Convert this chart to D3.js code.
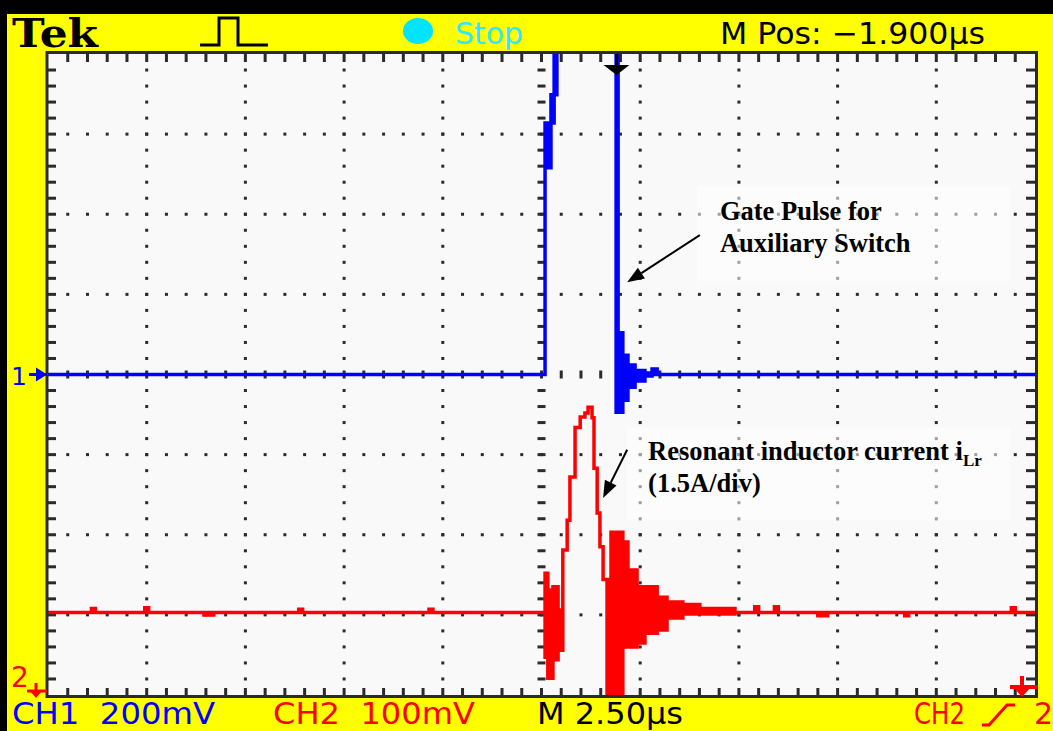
<!DOCTYPE html>
<html>
<head>
<meta charset="utf-8">
<script src="https://d3js.org/d3.v7.min.js"></script>
<style>
body { margin: 0; background: #000; overflow: hidden; }
svg { display: block; }
.scope { font-family: "DejaVu Sans", sans-serif; font-size: 30px; }
.note { font-family: "Liberation Serif", "Times New Roman", serif; font-weight: bold; font-size: 26.5px; fill: #000; }
</style>
</head>
<body>
<div id="chart"></div>
<script>
// time in us from screen centre (2.5 us/div), level in divisions from centre
// each entry: [time, lowest level, highest level] for that column (peak detect look)
var ch1Trace = [
  [-12.5, 0, 0],
  [0.09, 2.58, 3.14],
  [0.24, 3.14, 3.49],
  [0.32, 3.49, 4.6],
  [0.39, 4.6, 4.6],
  [1.89, -0.47, 4.6],
  [1.94, -0.47, 0.52],
  [2.06, -0.32, 0.24],
  [2.19, -0.16, 0.12],
  [2.37, -0.08, 0.05],
  [2.62, -0.02, 0.02],
  [2.80, 0, 0.07],
  [2.93, 0, 0],
  [12.5, 0, 0]
]

var ch2Trace = [
  [-12.5, -2.97, -2.97],
  [-11.40, -2.97, -2.92], [-11.30, -2.97, -2.97],
  [-10.05, -2.97, -2.91], [-9.95, -2.97, -2.97],
  [-8.55, -3.0, -2.97], [-8.30, -2.97, -2.97],
  [-6.15, -2.97, -2.93], [-6.05, -2.97, -2.97],
  [-2.85, -2.97, -2.93], [-2.75, -2.97, -2.97],
  [0.09, -3.53, -2.48],
  [0.16, -3.79, -2.69],
  [0.29, -3.56, -2.65],
  [0.42, -3.44, -2.94],
  [0.54, -2.19, -2.19],
  [0.65, -1.82, -1.82],
  [0.72, -1.28, -1.28],
  [0.85, -0.66, -0.66],
  [0.98, -0.53, -0.53],
  [1.10, -0.48, -0.48],
  [1.18, -0.41, -0.41],
  [1.28, -0.54, -0.54],
  [1.33, -1.17, -1.17],
  [1.41, -1.73, -1.73],
  [1.48, -2.15, -2.15],
  [1.56, -2.56, -2.56],
  [1.66, -4.2, -2.56],
  [1.76, -4.2, -1.97],
  [2.06, -3.40, -2.09],
  [2.19, -3.40, -2.44],
  [2.42, -3.35, -2.65],
  [2.62, -3.23, -2.65],
  [2.93, -3.19, -2.78],
  [3.18, -3.04, -2.84],
  [3.58, -2.99, -2.87],
  [4.01, -2.99, -2.92],
  [4.90, -2.97, -2.97],
  [5.40, -2.97, -2.90], [5.50, -2.97, -2.97],
  [5.90, -2.97, -2.90], [6.00, -2.97, -2.97],
  [7.00, -3.01, -2.97], [7.25, -2.97, -2.97],
  [9.20, -3.01, -2.97], [9.30, -2.97, -2.97],
  [11.90, -2.97, -2.91], [12.00, -2.97, -2.97],
  [12.5, -2.97, -2.97]
]

var triggerTime = 1.9
var ch1Ground = 0
var ch2Ground = -3.9

var statusTop = ['Tek', 'Stop', 'M Pos: \u22121.900\u00b5s']
var statusBottom = ['CH1  200mV', 'CH2  100mV', 'M 2.50\u00b5s', 'CH2', '2']

var notes = [
  {lines: ['Gate Pulse for', 'Auxiliary Switch'], text: [4.52, 1.93], box: [3.94, 2.35, 11.87, 1.17], from: [4.01, 1.74], to: [2.17, 1.15]},
  {lines: ['Resonant inductor current i', '(1.5A/div)'], sub: 'Lr', text: [2.70, -1.07], box: [2.17, -0.66, 11.87, -1.82], from: [2.17, -0.94], to: [1.56, -1.54]}
]

var W = 1053, H = 731
var svg = d3.select('#chart').append('svg').attr('width', W).attr('height', H)

// frame
svg.append('rect').attr('width', W).attr('height', H).attr('fill', '#000')
svg.append('rect').attr('x', 7).attr('y', 14).attr('width', W - 7).attr('height', H - 14).attr('fill', '#ffff00')

var x = d3.scaleLinear().domain([-12.5, 12.5]).range([48, 1035])
var y = d3.scaleLinear().domain([-4, 4]).range([695, 54])

svg.append('rect')
  .attr('x', x(-12.5)).attr('y', y(4))
  .attr('width', x(12.5) - x(-12.5)).attr('height', y(-4) - y(4))
  .attr('fill', '#f9f9f9')

// graticule
var g = svg.append('g').attr('fill', '#2b2b2b')
var xSub = d3.range(1, 50).map(i => -12.5 + i * 0.5)
var ySub = d3.range(1, 40).map(i => -4 + i * 0.2)
var xMajor = d3.range(-10, 10.01, 2.5)
var yMajor = d3.range(-3, 3.01, 1)

xMajor.filter(v => v != 0).forEach(function(gx){
  ySub.forEach(function(v){
    g.append('rect').attr('x', x(gx) - 1.5).attr('y', y(v) - 1.5).attr('width', 3).attr('height', 3)
  })
})
yMajor.filter(v => v != 0).forEach(function(gy){
  xSub.forEach(function(v){
    g.append('rect').attr('x', x(v) - 1.5).attr('y', y(gy) - 1.5).attr('width', 3).attr('height', 3)
  })
})
ySub.forEach(function(v){
  g.append('rect').attr('x', x(0) - 4).attr('y', y(v) - 1.5).attr('width', 8).attr('height', 3)
})
xSub.forEach(function(v){
  g.append('rect').attr('x', x(v) - 1.5).attr('y', y(0) - 4).attr('width', 3).attr('height', 8)
})

// annotation boxes (behind traces)
notes.forEach(function(n){
  svg.append('rect')
    .attr('x', x(n.box[0])).attr('y', y(n.box[1]))
    .attr('width', x(n.box[2]) - x(n.box[0])).attr('height', y(n.box[3]) - y(n.box[1]))
    .attr('fill', '#fff').attr('opacity', 0.55)
})

// traces
svg.append('clipPath').attr('id', 'plot-clip').append('rect')
  .attr('x', x(-12.5)).attr('y', y(4))
  .attr('width', x(12.5) - x(-12.5)).attr('height', y(-4) - y(4))

var area = d3.area().curve(d3.curveStepAfter)
  .x(d => x(d[0])).y0(d => y(d[1])).y1(d => y(d[2]))

var traces = svg.append('g').attr('clip-path', 'url(#plot-clip)')
traces.append('path').attr('d', area(ch1Trace))
  .attr('fill', '#0000ff').attr('stroke', '#0000ff').attr('stroke-width', 3.5)
traces.append('path').attr('d', area(ch2Trace))
  .attr('fill', '#ff0000').attr('stroke', '#ff0000').attr('stroke-width', 3.5)

// border and ticks
svg.append('rect')
  .attr('x', x(-12.5) - 1).attr('y', y(4) - 1.5)
  .attr('width', x(12.5) - x(-12.5) + 2.5).attr('height', y(-4) - y(4) + 3)
  .attr('fill', 'none').attr('stroke', '#2b2b2b').attr('stroke-width', 3)

xSub.forEach(function(v){
  g.append('rect').attr('x', x(v) - 1.5).attr('y', y(4)).attr('width', 3).attr('height', 8)
  g.append('rect').attr('x', x(v) - 1.5).attr('y', y(-4) - 7).attr('width', 3).attr('height', 7)
})
ySub.forEach(function(v){
  g.append('rect').attr('x', x(-12.5)).attr('y', y(v) - 1.5).attr('width', 8).attr('height', 3)
  g.append('rect').attr('x', x(12.5) - 9).attr('y', y(v) - 1.5).attr('width', 9).attr('height', 3)
})

// trigger position marker
var tx = x(triggerTime)
svg.append('path').attr('d', 'M' + tx + ',' + y(4) + 'V' + (y(4) + 13))
  .attr('stroke', '#000').attr('stroke-width', 3)
svg.append('path').attr('d', 'M' + (tx - 13) + ',' + (y(4) + 11) + 'H' + (tx + 13) + 'L' + tx + ',' + (y(4) + 21) + 'Z')
  .attr('fill', '#000')

// channel ground markers
var g1 = y(ch1Ground)
svg.append('text').attr('class', 'scope').attr('x', 11).attr('y', g1 + 10)
  .style('font-size', '25px').attr('fill', '#0000ff').text('1')
svg.append('path').attr('d', 'M29,' + g1 + 'H47').attr('stroke', '#0000ff').attr('stroke-width', 3)
svg.append('path').attr('d', 'M36,' + (g1 - 7) + 'L47,' + g1 + 'L36,' + (g1 + 7) + 'Z').attr('fill', '#0000ff')

var g2 = y(ch2Ground)
svg.append('text').attr('class', 'scope').attr('x', 11).attr('y', g2)
  .style('font-size', '28px').attr('fill', '#ff0000').text('2')
svg.append('path').attr('d', 'M27,' + (g2 + 4) + 'H47M36,' + (g2 - 4) + 'V' + (g2 + 4)).attr('stroke', '#ff0000').attr('stroke-width', 3)
svg.append('path').attr('d', 'M30,' + (g2 + 4) + 'H42L36,' + (g2 + 11) + 'Z').attr('fill', '#ff0000')

// trigger level marker at right
var rx = x(12.5) - 13, ry = y(-4) - 8
svg.append('path').attr('d', 'M' + (rx - 12) + ',' + ry + 'H' + (rx + 16) + 'M' + rx + ',' + (ry - 11) + 'V' + ry)
  .attr('stroke', '#ff0000').attr('stroke-width', 4)
svg.append('path').attr('d', 'M' + (rx - 9) + ',' + ry + 'H' + (rx + 9) + 'L' + rx + ',' + (ry + 10) + 'Z').attr('fill', '#ff0000')

// top status line
svg.append('text').attr('x', 12).attr('y', 47)
  .attr('font-family', '"DejaVu Serif", serif').attr('font-weight', 'bold').attr('font-size', 39)
  .attr('textLength', 86).attr('lengthAdjust', 'spacingAndGlyphs').text(statusTop[0])
svg.append('path').attr('d', 'M200,45H219V18H238V45H268')
  .attr('fill', 'none').attr('stroke', '#000').attr('stroke-width', 3)
svg.append('ellipse').attr('cx', 418).attr('cy', 31).attr('rx', 15).attr('ry', 13).attr('fill', '#00e4ff')
svg.append('text').attr('class', 'scope').attr('x', 455).attr('y', 44).attr('fill', '#30e8ff')
  .style('font-size', '31px')
  .attr('textLength', 68).attr('lengthAdjust', 'spacingAndGlyphs').text(statusTop[1])
svg.append('text').attr('class', 'scope').attr('x', 720).attr('y', 44).attr('fill', '#000')
  .style('font-size', '31px')
  .attr('textLength', 265).attr('lengthAdjust', 'spacingAndGlyphs').text(statusTop[2])

// bottom status line
var by = 724
svg.append('text').attr('class', 'scope').attr('x', 12).attr('y', by).attr('fill', '#0000ff')
  .attr('textLength', 203).attr('lengthAdjust', 'spacingAndGlyphs').style('white-space', 'pre').text(statusBottom[0])
svg.append('text').attr('class', 'scope').attr('x', 273).attr('y', by).attr('fill', '#ff0000')
  .attr('textLength', 202).attr('lengthAdjust', 'spacingAndGlyphs').style('white-space', 'pre').text(statusBottom[1])
svg.append('text').attr('class', 'scope').attr('x', 537).attr('y', by).attr('fill', '#000')
  .attr('textLength', 146).attr('lengthAdjust', 'spacingAndGlyphs').text(statusBottom[2])
svg.append('text').attr('class', 'scope').attr('x', 914).attr('y', by).attr('fill', '#ff0000')
  .attr('textLength', 51).attr('lengthAdjust', 'spacingAndGlyphs').text(statusBottom[3])
svg.append('path').attr('d', 'M982,' + (by + 1) + 'H989L1007,' + (by - 19) + 'H1015')
  .attr('fill', 'none').attr('stroke', '#ff0000').attr('stroke-width', 3)
svg.append('text').attr('class', 'scope').attr('x', 1034).attr('y', by).attr('fill', '#ff0000').text(statusBottom[4])

// annotations
function arrow(p0, p1){
  var x0 = x(p0[0]), y0 = y(p0[1]), x1 = x(p1[0]), y1 = y(p1[1])
  var a = Math.atan2(y1 - y0, x1 - x0), L = 17, w = 6.5
  var bx = x1 - L * Math.cos(a), byy = y1 - L * Math.sin(a)
  svg.append('path').attr('d', 'M' + x0 + ',' + y0 + 'L' + bx + ',' + byy)
    .attr('stroke', '#000').attr('stroke-width', 2)
  svg.append('path').attr('d', 'M' + x1 + ',' + y1 +
      'L' + (bx + w * Math.sin(a)) + ',' + (byy - w * Math.cos(a)) +
      'L' + (bx - w * Math.sin(a)) + ',' + (byy + w * Math.cos(a)) + 'Z')
    .attr('fill', '#000')
}

notes.forEach(function(n){
  var t = svg.append('text').attr('class', 'note').attr('x', x(n.text[0])).attr('y', y(n.text[1]))
  t.append('tspan').text(n.lines[0])
  if (n.sub) t.append('tspan').attr('dy', 6).style('font-size', '17px').text(n.sub)
  svg.append('text').attr('class', 'note').attr('x', x(n.text[0])).attr('y', y(n.text[1]) + 32).text(n.lines[1])
  arrow(n.from, n.to)
})
</script>
</body>
</html>
